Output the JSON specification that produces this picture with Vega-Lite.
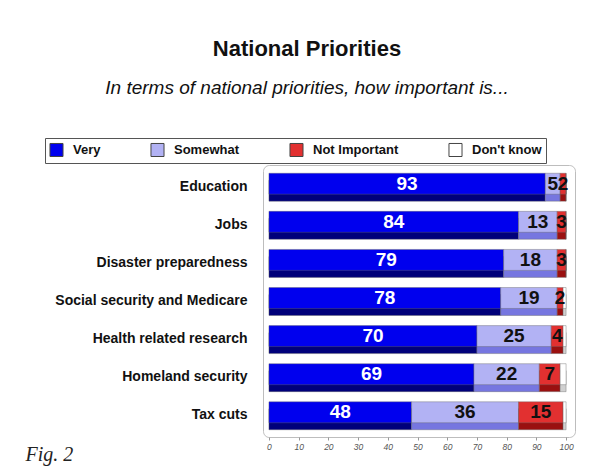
{
 "$schema": "https://vega.github.io/schema/vega-lite/v6.json",
 "width": 312,
 "height": 272,
 "autosize": {"type": "none"},
 "padding": {"left": 263, "top": 165, "right": 20, "bottom": 39},
 "background": "white",
 "title": {
  "text": "National Priorities",
  "subtitle": "In terms of national priorities, how important is...",
  "anchor": "middle", "frame": "group", "dx": -112, "offset": 39,
  "font": "Liberation Sans", "fontSize": 22, "fontWeight": "bold", "color": "#111",
  "subtitleFont": "Liberation Sans", "subtitleFontSize": 19, "subtitleFontStyle": "italic",
  "subtitleColor": "#111", "subtitlePadding": 18
 },
 "data": {"values": [
  {"item": "Education", "resp": "Very", "ord": 1, "value": 93},
  {"item": "Education", "resp": "Somewhat", "ord": 2, "value": 5},
  {"item": "Education", "resp": "Not Important", "ord": 3, "value": 2},
  {"item": "Education", "resp": "Don't know", "ord": 4, "value": 0},
  {"item": "Jobs", "resp": "Very", "ord": 1, "value": 84},
  {"item": "Jobs", "resp": "Somewhat", "ord": 2, "value": 13},
  {"item": "Jobs", "resp": "Not Important", "ord": 3, "value": 3},
  {"item": "Jobs", "resp": "Don't know", "ord": 4, "value": 0},
  {"item": "Disaster preparedness", "resp": "Very", "ord": 1, "value": 79},
  {"item": "Disaster preparedness", "resp": "Somewhat", "ord": 2, "value": 18},
  {"item": "Disaster preparedness", "resp": "Not Important", "ord": 3, "value": 3},
  {"item": "Disaster preparedness", "resp": "Don't know", "ord": 4, "value": 0},
  {"item": "Social security and Medicare", "resp": "Very", "ord": 1, "value": 78},
  {"item": "Social security and Medicare", "resp": "Somewhat", "ord": 2, "value": 19},
  {"item": "Social security and Medicare", "resp": "Not Important", "ord": 3, "value": 2},
  {"item": "Social security and Medicare", "resp": "Don't know", "ord": 4, "value": 1},
  {"item": "Health related research", "resp": "Very", "ord": 1, "value": 70},
  {"item": "Health related research", "resp": "Somewhat", "ord": 2, "value": 25},
  {"item": "Health related research", "resp": "Not Important", "ord": 3, "value": 4},
  {"item": "Health related research", "resp": "Don't know", "ord": 4, "value": 1},
  {"item": "Homeland security", "resp": "Very", "ord": 1, "value": 69},
  {"item": "Homeland security", "resp": "Somewhat", "ord": 2, "value": 22},
  {"item": "Homeland security", "resp": "Not Important", "ord": 3, "value": 7},
  {"item": "Homeland security", "resp": "Don't know", "ord": 4, "value": 2},
  {"item": "Tax cuts", "resp": "Very", "ord": 1, "value": 48},
  {"item": "Tax cuts", "resp": "Somewhat", "ord": 2, "value": 36},
  {"item": "Tax cuts", "resp": "Not Important", "ord": 3, "value": 15},
  {"item": "Tax cuts", "resp": "Don't know", "ord": 4, "value": 1}
 ]},
 "transform": [
  {"stack": "value", "groupby": ["item"], "sort": [{"field": "ord"}], "as": ["v0", "v1"]},
  {"calculate": "(datum.v0 + datum.v1) / 2", "as": "mid"}
 ],
 "layer": [
  {
   "mark": {"type": "bar", "yOffset": 4, "height": {"band": 0.55}, "stroke": "#666", "strokeWidth": 0.4},
   "encoding": {
    "y": {"field": "item", "type": "nominal", "sort": null, "title": null,
          "scale": {"paddingInner": 0, "paddingOuter": 0.07}},
    "x": {"field": "v0", "type": "quantitative", "title": "Fig. 2",
          "scale": {"domain": [-2, 103], "nice": false, "zero": false}},
    "x2": {"field": "v1"},
    "color": {"field": "resp", "type": "nominal", "legend": null,
              "scale": {"domain": ["Very", "Somewhat", "Not Important", "Don't know"],
                        "range": ["#00007a", "#7676e0", "#9a1010", "#d0d0d0"]}}
   }
  },
  {
   "layer": [
    {
     "mark": {"type": "bar", "yOffset": -3, "height": {"band": 0.55}, "stroke": "#666", "strokeWidth": 0.4},
     "encoding": {
      "y": {"field": "item", "type": "nominal", "sort": null, "title": null},
      "x": {"field": "v0", "type": "quantitative", "title": "Fig. 2"},
      "x2": {"field": "v1"},
      "color": {"field": "resp", "type": "nominal", "title": null,
                "scale": {"domain": ["Very", "Somewhat", "Not Important", "Don't know"],
                          "range": ["#0000ee", "#b2b2f4", "#e23030", "#ffffff"]},
                "legend": {"orient": "none", "legendX": -218, "legendY": -27, "direction": "horizontal"}}
     }
    },
    {
     "transform": [{"filter": "datum.resp !== \"Don't know\""}],
     "mark": {"type": "text", "yOffset": -3, "font": "Liberation Sans", "fontSize": 19,
              "fontWeight": "bold", "align": "center", "baseline": "middle"},
     "encoding": {
      "y": {"field": "item", "type": "nominal", "sort": null, "title": null},
      "x": {"field": "mid", "type": "quantitative", "title": "Fig. 2"},
      "text": {"field": "value", "type": "quantitative"},
      "color": {"condition": {"test": "datum.resp === 'Very'", "value": "white"}, "value": "#111"}
     }
    }
   ]
  }
 ],
 "resolve": {"scale": {"color": "independent"}, "legend": {"color": "independent"}},
 "config": {
  "view": {"stroke": "#bdbdbd", "fill": "white", "cornerRadius": 6},
  "axisY": {
   "domain": false, "ticks": false, "grid": false, "labelPadding": 16,
   "labelFont": "Liberation Sans", "labelFontSize": 14, "labelFontWeight": "bold",
   "labelColor": "#111", "labelLimit": 260
  },
  "axisX": {
   "values": [0, 20, 40, 60, 80, 100], "grid": false, "domain": false,
   "tickColor": "#999", "tickSize": 3, "labelPadding": 2,
   "labelFont": "Liberation Sans", "labelFontSize": 8.5, "labelFontStyle": "italic",
   "labelColor": "#555",
   "titleX": -238, "titleY": 23, "titleAlign": "left", "titleBaseline": "alphabetic",
   "titleFont": "Liberation Serif", "titleFontStyle": "italic", "titleFontWeight": "normal",
   "titleFontSize": 20, "titleColor": "#222"
  },
  "legend": {
   "columnPadding": 47, "padding": 4, "strokeColor": "#555", "fillColor": "white",
   "symbolType": "square", "symbolSize": 170, "symbolStrokeColor": "#444",
   "symbolStrokeWidth": 1, "symbolOpacity": 1,
   "labelFont": "Liberation Sans", "labelFontSize": 13, "labelFontWeight": "bold",
   "labelColor": "#111", "labelOffset": 9
  }
 }
}
